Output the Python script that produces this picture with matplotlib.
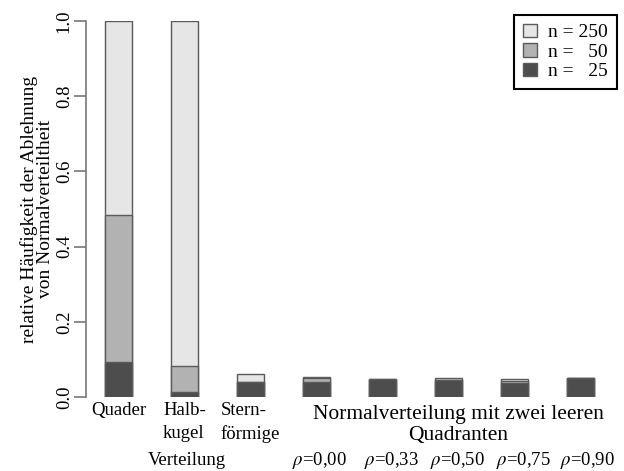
import matplotlib
matplotlib.use('Agg')
import matplotlib.pyplot as plt
from matplotlib.patches import Patch

plt.rcParams['font.family'] = ['Liberation Serif', 'DejaVu Serif']
plt.rcParams['mathtext.fontset'] = 'stix'

# Daten
kategorien = ['Quader', 'Halb-\nkugel', 'Stern-\nförmige']
rho_labels = ['0,00', '0,33', '0,50', '0,75', '0,90']
n250 = [1.0, 1.0, 0.062, 0.054, 0.048, 0.050, 0.047, 0.051]
n50 = [0.483, 0.083, 0.040, 0.050, 0.046, 0.046, 0.043, 0.050]
n25 = [0.093, 0.013, 0.040, 0.039, 0.048, 0.045, 0.037, 0.051]
legende = ['n = 250', 'n =   50', 'n =   25']
farben = ['#e6e6e6', '#b2b2b2', '#4d4d4d']

W, H = 624, 471
fig = plt.figure(figsize=(W / 100, H / 100), dpi=100)
ax = fig.add_axes([86 / W, (H - 397) / H, (612 - 86) / W, (397 - 21) / H])

x = list(range(len(n250)))
breite = 27 / 66
for werte, farbe in zip([n250, n50, n25], farben):
    ax.bar(x, werte, width=breite, color=farbe, edgecolor='#5a5a5a', linewidth=1.0)

ax.set_xlim((86 - 118.5) / 66, (612 - 118.5) / 66)
ax.set_ylim(0, 1)

# Achsen im R-Stil
for s in ['top', 'right', 'bottom']:
    ax.spines[s].set_visible(False)
ax.spines['left'].set_color('#777777')
ax.spines['left'].set_linewidth(1.2)
ax.set_xticks([])
ax.set_yticks([0, 0.2, 0.4, 0.6, 0.8, 1.0])
ax.set_yticklabels(['0.0', '0.2', '0.4', '0.6', '0.8', '1.0'], rotation=90, va='center', fontsize=13.5)
ax.tick_params(axis='y', length=9, width=1.2, color='#777777', pad=0.5)

ax.set_ylabel('relative Häufigkeit der Ablehnung\nvon Normalverteiltheit', fontsize=14, labelpad=1, linespacing=0.95)

# Beschriftungen unter den Balken
trans = ax.get_xaxis_transform()
for i, k in enumerate(kategorien):
    ax.text(i, -0.012, k, transform=trans, ha='center', va='top', fontsize=13.5,
            multialignment='left', linespacing=1.5, clip_on=False)
ax.text(5.15, -0.02, 'Normalverteilung mit zwei leeren\nQuadranten', transform=trans,
        ha='center', va='top', fontsize=15.5, linespacing=1.2, clip_on=False)
ax.text(1.04, -0.168, 'Verteilung', transform=trans, ha='center', va='center', fontsize=13.5, clip_on=False)
rho_pos = [3.05, 4.14, 5.14, 6.13, 7.11]
for p, r in zip(rho_pos, rho_labels):
    ax.text(p, -0.168, r'$\rho$=' + r, transform=trans, ha='center', va='center', fontsize=13.5, clip_on=False)

# Legende
griffe = [Patch(facecolor=f, edgecolor='#5a5a5a') for f in farben]
leg = fig.legend(griffe, legende, loc='upper right', bbox_to_anchor=(617 / W, 1 - 15 / H),
                 frameon=True, fancybox=False, framealpha=1, edgecolor='black', fontsize=14,
                 handlelength=0.7, handleheight=0.7, handletextpad=0.6, borderpad=0.45,
                 labelspacing=0.1, borderaxespad=0)
leg.get_frame().set_linewidth(1.5)

fig.savefig('out.png', dpi=100)
